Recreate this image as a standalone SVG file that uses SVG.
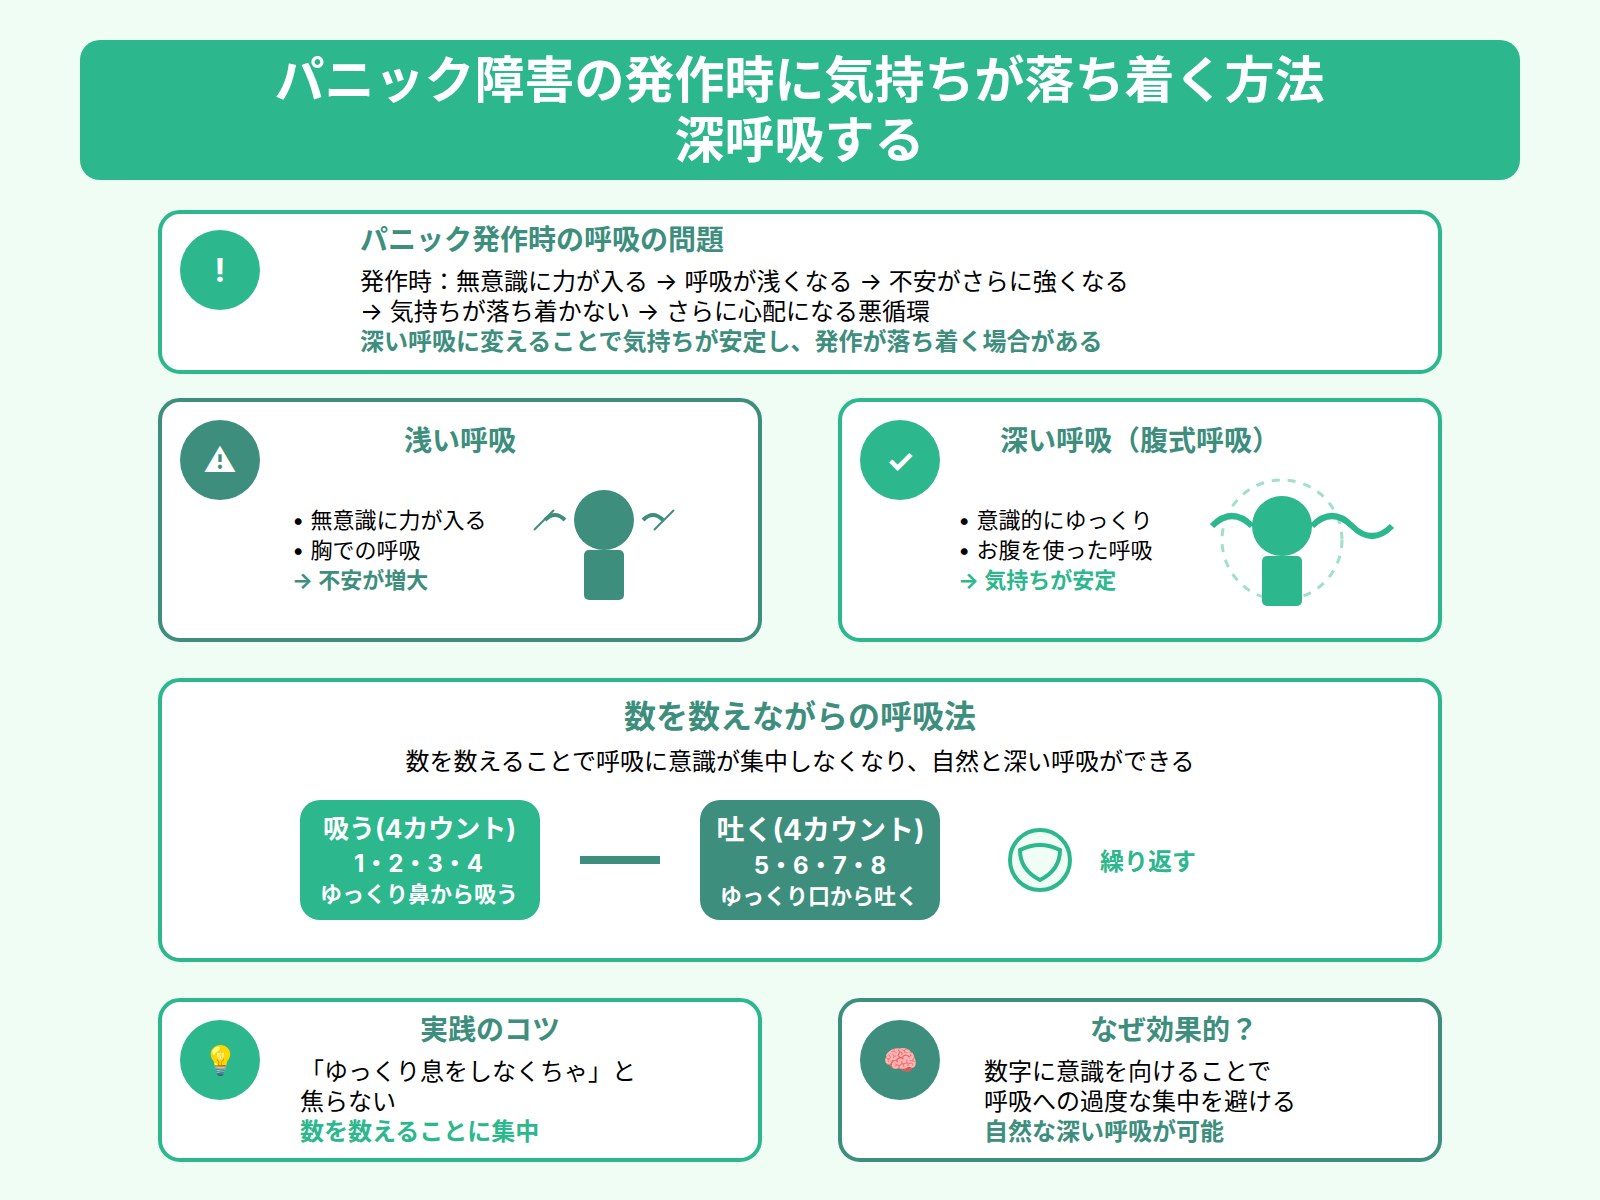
<svg xmlns="http://www.w3.org/2000/svg" width="1600" height="1200" viewBox="0 0 1600 1200">
<style>
text{font-family:Inter,"Noto Sans CJK JP","Liberation Sans",sans-serif;fill:#000}
.b{font-weight:700}
.m{text-anchor:middle}
.w{fill:#fff}
.g{fill:#2cb78d}
.d{fill:#3d8e7d}
.cg{fill:#fff;stroke:#2cb78d;stroke-width:4}
.cd{fill:#fff;stroke:#3d8e7d;stroke-width:4}
.t28{font-size:28px;font-weight:700;fill:#3d8e7d}
.t24{font-size:24px}
.t22{font-size:22px}
.ic{font-size:32px;font-weight:700;fill:#fff;text-anchor:middle}
.em{font-size:28px;text-anchor:middle}
</style>
<rect width="1600" height="1200" fill="#f0fdf5"/>
<g id="header">
<rect x="80" y="40" width="1440" height="140" rx="20" class="g"/>
<text x="799.5" y="98" class="b m w" font-size="50">パニック障害の発作時に気持ちが落ち着く方法</text>
<text x="799.5" y="158" class="b m w" font-size="50">深呼吸する</text>
</g>
<g id="problem">
<rect x="160" y="212" width="1280" height="160" rx="20" class="cg"/>
<circle cx="220" cy="270" r="40" class="g"/>
<text x="220" y="282" class="ic">!</text>
<text x="360" y="250" class="t28">パニック発作時の呼吸の問題</text>
<text x="360" y="290" class="t24">発作時：無意識に力が入る → 呼吸が浅くなる → 不安がさらに強くなる</text>
<text x="360" y="320" class="t24">→ 気持ちが落ち着かない → さらに心配になる悪循環</text>
<text x="360" y="350" class="t24 b d">深い呼吸に変えることで気持ちが安定し、発作が落ち着く場合がある</text>
</g>
<g id="shallow">
<rect x="160" y="400" width="600" height="240" rx="20" class="cd"/>
<circle cx="220" cy="460" r="40" class="d"/>
<text x="220" y="471.5" class="ic">⚠</text>
<text x="460" y="451" class="t28 m">浅い呼吸</text>
<text x="292" y="528" class="t22">• 無意識に力が入る</text>
<text x="292" y="558" class="t22">• 胸での呼吸</text>
<text x="292" y="588" class="t22 b d">→ 不安が増大</text>
<path d="M545 520Q555 510 565 520M643 520Q653 510 663 520" fill="none" stroke="#3d8e7d" stroke-width="4"/>
<path d="M534 530L554 510M654 530L674 510" fill="none" stroke="#3d8e7d" stroke-width="2"/>
<circle cx="604" cy="520" r="30" class="d"/>
<rect x="584" y="550" width="40" height="50" rx="5" class="d"/>
</g>
<g id="deep">
<rect x="840" y="400" width="600" height="240" rx="20" class="cg"/>
<circle cx="900" cy="460" r="40" class="g"/>
<text x="900" y="472" class="ic">✓</text>
<text x="1140" y="451" class="t28 m">深い呼吸（腹式呼吸）</text>
<text x="958" y="528" class="t22">• 意識的にゆっくり</text>
<text x="958" y="558" class="t22">• お腹を使った呼吸</text>
<text x="958" y="588" class="t22 b g">→ 気持ちが安定</text>
<circle cx="1282" cy="540" r="60" fill="none" stroke="#2cb78d" stroke-width="3" stroke-dasharray="8 8" opacity=".45"/>
<path d="M1212 526Q1232 506 1252 526M1312 526Q1332 506 1352 526T1392 526" fill="none" stroke="#2cb78d" stroke-width="6"/>
<circle cx="1282" cy="526" r="30" class="g"/>
<rect x="1262" y="556" width="40" height="50" rx="5" class="g"/>
</g>
<g id="counting">
<rect x="160" y="680" width="1280" height="280" rx="20" class="cg"/>
<text x="800" y="728" class="b m d" font-size="32">数を数えながらの呼吸法</text>
<text x="800" y="770" class="m t24">数を数えることで呼吸に意識が集中しなくなり、自然と深い呼吸ができる</text>
</g>
<g id="inhale">
<rect x="300" y="800" width="240" height="120" rx="20" class="g"/>
<text x="419.5" y="838" class="b m w" font-size="26">吸う(4カウント)</text>
<text x="418.5" y="872" class="b m w" font-size="24">1・2・3・4</text>
<text x="419" y="902" class="b m w t22">ゆっくり鼻から吸う</text>
</g>
<g id="exhale">
<rect x="700" y="800" width="240" height="120" rx="20" class="d"/>
<text x="820.5" y="840" class="b m w" font-size="28">吐く(4カウント)</text>
<text x="820" y="874" class="b m w" font-size="24">5・6・7・8</text>
<text x="819" y="904" class="b m w t22">ゆっくり口から吐く</text>
</g>
<g id="connectors">
<path d="M580 860H660" stroke="#3d8e7d" stroke-width="8" fill="none"/>
</g>
<g id="repeat">
<circle cx="1040" cy="860" r="30" fill="#f0fdf5" stroke="#2cb78d" stroke-width="4"/>
<path d="M1020 850Q1040 840 1060 850Q1060 870 1040 880Q1020 870 1020 850Z" fill="#f0fdf5" stroke="#2cb78d" stroke-width="4"/>
<text x="1100" y="870" class="t24 b g">繰り返す</text>
</g>
<g id="tips">
<rect x="160" y="1000" width="600" height="160" rx="20" class="cg"/>
<circle cx="220" cy="1060" r="40" class="g"/>
<text x="220" y="1070" class="em">💡</text>
<text x="490" y="1040" class="t28 m">実践のコツ</text>
<text x="300" y="1080" class="t24">「ゆっくり息をしなくちゃ」と</text>
<text x="300" y="1110" class="t24">焦らない</text>
<text x="300" y="1140" class="t24 b g">数を数えることに集中</text>
</g>
<g id="why">
<rect x="840" y="1000" width="600" height="160" rx="20" class="cd"/>
<circle cx="900" cy="1060" r="40" class="d"/>
<text x="900" y="1070" class="em">🧠</text>
<text x="1174" y="1040" class="t28 m">なぜ効果的？</text>
<text x="984" y="1080" class="t24">数字に意識を向けることで</text>
<text x="984" y="1110" class="t24">呼吸への過度な集中を避ける</text>
<text x="984" y="1140" class="t24 b d">自然な深い呼吸が可能</text>
</g>
</svg>
